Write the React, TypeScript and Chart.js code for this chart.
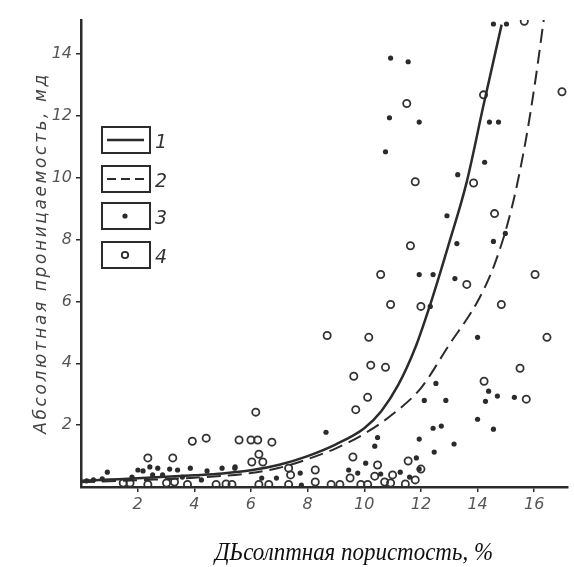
import React, { useEffect, useRef } from "react";
import { Chart, registerables } from "chart.js";

Chart.register(...registerables);

const xTicks = [2, 4, 6, 8, 10, 12, 14, 16];
const yTicks = [2, 4, 6, 8, 10, 12, 14];

const curve1X = [0, 1, 2, 3, 4, 5, 6, 7, 8, 9, 10, 10.6, 11.2, 11.8, 12.4, 13, 13.6, 14.2, 14.85];
const curve1Y = [0.2, 0.24, 0.28, 0.33, 0.38, 0.44, 0.54, 0.72, 1.0, 1.38, 1.9, 2.45, 3.3, 4.5, 6.1, 7.9, 9.8, 12.3, 14.95];

const curve2X = [0, 2, 4, 6, 7, 8, 9, 10, 11, 12, 13, 14, 14.6, 15.2, 15.7, 16.05, 16.35];
const curve2Y = [0.15, 0.22, 0.3, 0.45, 0.62, 0.9, 1.25, 1.72, 2.35, 3.2, 4.6, 6.0, 7.2, 9.0, 11.2, 13.2, 15.2];

const filledX = [10.93, 11.55, 10.89, 11.94, 10.75, 14.56, 15.02, 14.42, 14.74, 14.25, 13.3, 12.92, 13.27, 14.56, 14.98, 11.94, 12.43, 13.2, 12.33, 12.53, 12.12, 12.88, 14.0,
  14.39, 14.28, 14.7, 15.3, 14.0, 14.56, 12.43, 12.72, 11.94, 13.17, 12.47, 11.84, 11.27, 11.6, 11.94,
  8.65, 10.47, 10.37, 10.05, 9.45, 9.77, 10.58, 7.74, 6.38, 6.9, 7.78, 5.43,
  0.93, 0.44, 0.75, 2.01, 2.19, 2.43, 2.71, 3.13, 3.41, 3.86, 4.45, 4.98, 5.44, 1.8, 2.53, 2.88, 3.58, 4.25, 0.2];
const filledY = [13.87, 13.75, 11.94, 11.8, 10.84, 14.97, 14.97, 11.8, 11.8, 10.5, 10.1, 8.77, 7.87, 7.94, 8.2, 6.87, 6.87, 6.74, 5.84, 3.35, 2.8, 2.8, 4.84,
  3.1, 2.77, 2.94, 2.9, 2.19, 1.87, 1.9, 1.97, 1.55, 1.39, 1.13, 0.94, 0.48, 0.32, 0.58,
  1.77, 1.6, 1.32, 0.77, 0.55, 0.45, 0.42, 0.45, 0.29, 0.29, 0.06, 0.61,
  0.48, 0.23, 0.26, 0.55, 0.52, 0.65, 0.61, 0.58, 0.55, 0.61, 0.52, 0.61, 0.65, 0.32, 0.39, 0.39, 0.32, 0.23, 0.2];

const openX = [15.65, 16.38, 16.98, 14.21, 11.5, 11.8, 13.86, 14.6, 11.63, 10.58, 16.03, 10.93, 12.0, 8.69, 10.16, 10.23, 10.75, 9.63, 10.12, 9.7, 13.62, 14.84, 16.45, 15.5, 14.23, 15.72,
  11.55, 12.0, 11.0, 11.8, 11.45, 10.93,
  6.17, 5.58, 6.0, 6.24, 6.74, 6.28, 6.03, 6.42, 9.6, 10.47, 7.33, 8.27, 7.4, 9.5, 10.37, 10.72, 8.27, 5.33, 6.28, 6.63, 7.33, 8.83, 9.14, 9.88, 10.12,
  3.93, 4.42, 2.36, 3.24, 1.49, 1.73, 2.36, 3.02, 3.3, 3.76, 4.77, 5.12];
const openY = [15.06, 15.3, 12.78, 12.68, 12.4, 9.87, 9.83, 8.84, 7.8, 6.87, 6.87, 5.9, 5.84, 4.9, 4.84, 3.94, 3.87, 3.58, 2.9, 2.5, 6.55, 5.9, 4.84, 3.84, 3.42, 2.84,
  0.84, 0.58, 0.39, 0.23, 0.1, 0.13,
  2.42, 1.52, 1.52, 1.52, 1.45, 1.06, 0.81, 0.81, 0.97, 0.71, 0.61, 0.55, 0.39, 0.29, 0.35, 0.16, 0.16, 0.08, 0.08, 0.08, 0.08, 0.08, 0.08, 0.08, 0.08,
  1.48, 1.58, 0.94, 0.94, 0.13, 0.13, 0.08, 0.13, 0.16, 0.08, 0.08, 0.1];

const legendLabels = ["1", "2", "3", "4"];
const yTitle = "Абсолютная проницаемость, мд";
const xTitle = "ДЬсолптная пористость, %";

const zip = (xs: number[], ys: number[]) => xs.map((x, i) => ({ x, y: ys[i] }));

const INK = "#2b2b2b";

const decorPlugin = {
  id: "decor",
  afterDraw(chart: any) {
    const ctx = chart.ctx as CanvasRenderingContext2D;
    ctx.save();
    ctx.fillStyle = "#444";
    ctx.font = "italic 17px 'DejaVu Sans'";
    (ctx as any).letterSpacing = "2.6px";
    ctx.translate(42, 253);
    ctx.rotate(-Math.PI / 2);
    ctx.textAlign = "center";
    ctx.textBaseline = "middle";
    ctx.fillText(yTitle, 0, 0);
    ctx.restore();

    ctx.save();
    (ctx as any).letterSpacing = "0px";
    ctx.fillStyle = "#111";
    ctx.font = "italic 26px 'Liberation Serif'";
    ctx.textAlign = "center";
    ctx.textBaseline = "alphabetic";
    const w = ctx.measureText(xTitle).width;
    const target = 278;
    ctx.translate(354, 560);
    ctx.scale(target / w, 1);
    ctx.fillText(xTitle, 0, 0);
    ctx.restore();

    ctx.save();
    const boxX = 102, boxW = 48, boxH = 26;
    const tops = [127, 166, 203, 242];
    tops.forEach((t, i) => {
      ctx.strokeStyle = INK;
      ctx.lineWidth = 2;
      ctx.setLineDash([]);
      ctx.strokeRect(boxX, t, boxW, boxH);
      const cy = t + boxH / 2;
      if (i === 0) {
        ctx.lineWidth = 2.5;
        ctx.beginPath(); ctx.moveTo(107, cy); ctx.lineTo(144, cy); ctx.stroke();
      } else if (i === 1) {
        ctx.lineWidth = 2;
        ctx.setLineDash([9, 5]);
        ctx.beginPath(); ctx.moveTo(107, cy); ctx.lineTo(146, cy); ctx.stroke();
        ctx.setLineDash([]);
      } else if (i === 2) {
        ctx.fillStyle = INK;
        ctx.beginPath(); ctx.arc(125, cy, 2.6, 0, Math.PI * 2); ctx.fill();
      } else {
        ctx.lineWidth = 1.8;
        ctx.beginPath(); ctx.arc(125, cy, 3.2, 0, Math.PI * 2); ctx.stroke();
      }
      ctx.fillStyle = "#333";
      ctx.font = "italic 19px 'DejaVu Sans'";
      ctx.textAlign = "left";
      ctx.textBaseline = "middle";
      ctx.fillText(legendLabels[i], 155, cy + 3);
    });
    ctx.restore();
  },
};

export default function App() {
  const ref = useRef<HTMLCanvasElement | null>(null);
  useEffect(() => {
    if (!ref.current) return;
    const tickFont = { family: "'DejaVu Sans'", size: 16, style: "italic" as const };
    const chart = new Chart(ref.current, {
      type: "scatter",
      data: {
        datasets: [
          {
            label: "1",
            data: zip(curve1X, curve1Y),
            showLine: true,
            borderColor: INK,
            borderWidth: 2.5,
            pointRadius: 0,
            cubicInterpolationMode: "monotone",
            fill: false,
          } as any,
          {
            label: "2",
            data: zip(curve2X, curve2Y),
            showLine: true,
            borderColor: INK,
            borderWidth: 2,
            borderDash: [14, 7],
            pointRadius: 0,
            cubicInterpolationMode: "monotone",
            fill: false,
          } as any,
          {
            label: "3",
            data: zip(filledX, filledY),
            pointRadius: 2.6,
            pointBackgroundColor: INK,
            pointBorderColor: INK,
            pointBorderWidth: 0,
          },
          {
            label: "4",
            data: zip(openX, openY),
            pointRadius: 3.6,
            pointBackgroundColor: "rgba(255,255,255,0)",
            pointBorderColor: "#333",
            pointBorderWidth: 1.8,
          },
        ],
      },
      options: {
        animation: false,
        responsive: true,
        maintainAspectRatio: false,
        layout: { padding: { top: 20, right: 2, left: 0, bottom: 0 } },
        plugins: { legend: { display: false }, tooltip: { enabled: false }, title: { display: false } },
        scales: {
          x: {
            type: "linear",
            min: 0,
            max: 17.2,
            afterFit: (s: any) => { s.height = 80; },
            afterBuildTicks: (s: any) => { s.ticks = xTicks.map((v) => ({ value: v })); },
            border: { display: true, color: INK, width: 2.5 },
            grid: { drawOnChartArea: false, drawTicks: true, tickLength: 5, color: INK, lineWidth: 1.5 },
            ticks: { color: "#555", font: tickFont, padding: 3, maxRotation: 0 },
          },
          y: {
            type: "linear",
            min: 0,
            max: 15.1,
            afterFit: (s: any) => { s.width = 81; },
            afterBuildTicks: (s: any) => { s.ticks = yTicks.map((v) => ({ value: v })); },
            border: { display: true, color: INK, width: 2.5 },
            grid: { drawOnChartArea: false, drawTicks: true, tickLength: 5, color: INK, lineWidth: 1.5 },
            ticks: { color: "#555", font: tickFont, padding: 4 },
          },
        },
      } as any,
      plugins: [decorPlugin],
    });
    return () => chart.destroy();
  }, []);
  return (
    <div style={{ position: "fixed", left: 0, top: 0, width: 574, height: 567, background: "#fff" }}>
      <canvas ref={ref} />
    </div>
  );
}
